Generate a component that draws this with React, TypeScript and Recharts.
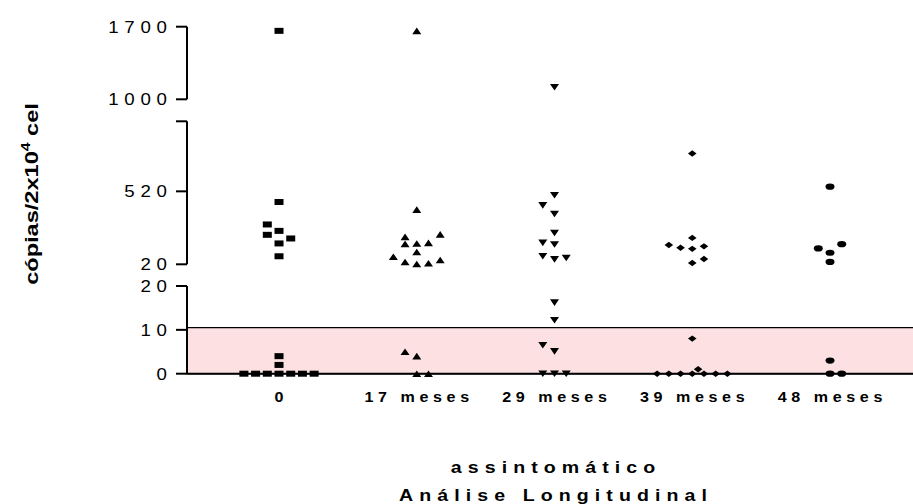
import React from 'react';
import { ScatterChart, Scatter, XAxis, YAxis, ReferenceArea } from 'recharts';

// ---- data (cópias/2x10^4 cel) ----
const categories = ['0', '17 meses', '29 meses', '39 meses', '48 meses'];

const values0 = [1660, 447, 293, 249, 222, 197, 163, 75, 4, 2, 0, 0, 0, 0, 0, 0, 0];
const slots0 = [0, 0, -1, 0, -1, 1, 0, 0, 0, 0, -3, -2, -1, 0, 1, 2, 3];

const values17 = [1660, 395, 208, 225, 160, 163, 167, 104, 72, 36, 22, 27, 49, 5, 4, 0, 0];
const slots17 = [0, 0, -1, 2, -1, 0, 1, 0, -2, -1, 0, 1, 2, -1, 0, 0, 1];

const values29 = [1116, 493, 424, 365, 235, 167, 156, 75, 54, 63, 16.2, 12.2, 6.5, 5.1, 0, 0, 0];
const slots29 = [0, 0, -1, 0, 0, -1, 0, -1, 0, 1, 0, 0, -1, 0, -1, 0, 1];

const values39 = [779, 201, 152, 133, 126, 143, 29, 56, 8, 1, 0, 0, 0, 0, 0, 0, 0];
const slots39 = [0, 0, -2, -1, 0, 1, 0, 1, 0, 0.5, -3, -2, -1, 0, 1, 2, 3];

const values48 = [552, 129, 158, 99, 36, 3, 0, 0];
const slots48 = [0, -1, 1, 0, 0, 0, 0, 1];

const limitValue = 10.5; // pink band upper limit

const topTicks = [1000, 1700];
const midTicks = [20, 520, 1000];
const botTicks = [0, 10, 20];

// ---- layout ----
const W = 940;
const H = 504;
const PLOT_LEFT = 187;
const YW = 100;
const XH = 30;
const SLOT = 0.085;
const X_DOMAIN: [number, number] = [0.332, 5.7985];
const FONT = '"Liberation Sans", Arial, Helvetica, sans-serif';

const groups = [
  { values: values0, slots: slots0, shape: 'square' },
  { values: values17, slots: slots17, shape: 'triUp' },
  { values: values29, slots: slots29, shape: 'triDown' },
  { values: values39, slots: slots39, shape: 'diamond' },
  { values: values48, slots: slots48, shape: 'circle' },
];

const makeShape = (kind: string) => (props: any) => {
  const { cx, cy } = props;
  if (cx == null || cy == null || kind === 'none') return <g />;
  if (kind === 'square') return <rect x={cx - 4.5} y={cy - 3} width={9} height={6} fill="#000" />;
  if (kind === 'triUp')
    return <path d={`M${cx - 4.5},${cy + 3.3}L${cx + 4.5},${cy + 3.3}L${cx},${cy - 3.3}Z`} fill="#000" />;
  if (kind === 'triDown')
    return <path d={`M${cx - 4.5},${cy - 3.3}L${cx + 4.5},${cy - 3.3}L${cx},${cy + 3.3}Z`} fill="#000" />;
  if (kind === 'diamond')
    return <path d={`M${cx - 4.3},${cy}L${cx},${cy - 3.2}L${cx + 4.3},${cy}L${cx},${cy + 3.2}Z`} fill="#000" />;
  return <ellipse cx={cx} cy={cy} rx={4.5} ry={3.1} fill="#000" />;
};

const makeYTick = (hidden: number[]) => (props: any) => {
  const { x, y, payload } = props;
  const label = hidden.includes(payload.value) ? '' : String(payload.value);
  const ls = 5.2;
  const sx = 1.1;
  return (
    <text
      transform={`translate(${x + ls * sx},${y}) scale(${sx},1)`}
      x={0}
      y={0}
      dy="0.36em"
      textAnchor="end"
      fontFamily={FONT}
      fontSize={17}
      letterSpacing={ls}
      fill="#000"
    >
      {label}
    </text>
  );
};

const XTick = (props: any) => {
  const { x, y, payload } = props;
  const idx = Math.round(payload.value) - 1;
  const ls = 4;
  const sx = 1.15;
  return (
    <text
      transform={`translate(${x + (ls * sx) / 2},${y + 28.7}) scale(${sx},1)`}
      x={0}
      y={0}
      textAnchor="middle"
      fontFamily={FONT}
      fontWeight="bold"
      fontSize={14}
      letterSpacing={ls}
      fill="#000"
    >
      {categories[idx] ?? ''}
    </text>
  );
};

type Seg = {
  key: string;
  domain: [number, number];
  ticks: number[];
  hidden: number[];
  top: number;
  bottom: number;
  keep: (v: number) => boolean;
};

const segments: Seg[] = [
  { key: 'top', domain: [1000, 1700], ticks: topTicks, hidden: [], top: 26.7, bottom: 99.3, keep: (v) => v > 1000 },
  { key: 'mid', domain: [20, 1000], ticks: midTicks, hidden: [1000], top: 121.3, bottom: 264.3, keep: (v) => v > 20 && v <= 1000 },
  { key: 'bot', domain: [0, 20], ticks: botTicks, hidden: [], top: 286, bottom: 373.7, keep: (v) => v <= 20 },
];

const seriesFor = (seg: Seg, invisible: boolean) =>
  groups.map((g, i) => {
    const data = g.values
      .map((v, j) => ({ x: i + 1 + g.slots[j] * SLOT, y: v }))
      .filter((p) => seg.keep(p.y));
    return (
      <Scatter
        key={categories[i]}
        name={categories[i]}
        data={data}
        fill="#000"
        shape={makeShape(invisible ? 'none' : g.shape)}
        isAnimationActive={false}
      />
    );
  });

function Segment({ seg }: { seg: Seg }) {
  const isBottom = seg.key === 'bot';
  return (
    <div style={{ position: 'absolute', left: 0, top: 0 }}>
      <ScatterChart
        width={W}
        height={H}
        margin={{ top: seg.top, right: 0, left: PLOT_LEFT - YW, bottom: H - seg.bottom - (isBottom ? XH : 0) }}
      >
        {isBottom && (
          <ReferenceArea
            y1={0}
            y2={limitValue}
            fill="#fde0e2"
            fillOpacity={1}
            stroke="#000"
            strokeWidth={1.3}
          />
        )}
        <XAxis
          type="number"
          dataKey="x"
          domain={X_DOMAIN}
          ticks={[1, 2, 3, 4, 5]}
          hide={!isBottom}
          height={XH}
          tickLine={false}
          tickSize={0}
          tickMargin={0}
          axisLine={{ stroke: '#000', strokeWidth: 2 }}
          tick={<XTick />}
          interval={0}
        />
        <YAxis
          type="number"
          dataKey="y"
          domain={seg.domain}
          ticks={seg.ticks}
          width={YW}
          tickSize={11}
          tickMargin={9}
          interval={0}
          axisLine={{ stroke: '#000', strokeWidth: 2 }}
          tickLine={{ stroke: '#000', strokeWidth: 2 }}
          tick={makeYTick(seg.hidden)}
        />
        {seriesFor(seg, isBottom)}
      </ScatterChart>
    </div>
  );
}

// bottom-segment points drawn on a transparent layer above the x axis line
function BottomPoints({ seg }: { seg: Seg }) {
  return (
    <div style={{ position: 'absolute', left: 0, top: 0 }}>
      <ScatterChart width={W} height={H} margin={{ top: seg.top, right: 0, left: PLOT_LEFT, bottom: H - seg.bottom }}>
        <XAxis type="number" dataKey="x" domain={X_DOMAIN} hide />
        <YAxis type="number" dataKey="y" domain={seg.domain} hide />
        {seriesFor(seg, false)}
      </ScatterChart>
    </div>
  );
}

export default function App() {
  const tls = 5.3;
  const tsx = 1.15;
  return (
    <div
      style={{
        position: 'absolute',
        left: 0,
        top: 0,
        width: 913,
        height: 504,
        overflow: 'hidden',
        background: '#fff',
      }}
    >
      {segments.map((s) => (
        <Segment key={s.key} seg={s} />
      ))}
      <BottomPoints seg={segments[2]} />
      <svg width={913} height={504} style={{ position: 'absolute', left: 0, top: 0, pointerEvents: 'none' }}>
        <text
          transform={`translate(38,194) rotate(-90) scale(1.31,1)`}
          textAnchor="middle"
          fontFamily={FONT}
          fontWeight="bold"
          fontSize={18}
          fill="#000"
        >
          cópias/2x10
          <tspan fontSize={12} dy={-8}>4</tspan>
          <tspan dy={8}> cel</tspan>
        </text>
        <text
          transform={`translate(${553 + (tls * tsx) / 2},473) scale(${tsx},1)`}
          textAnchor="middle"
          fontFamily={FONT}
          fontWeight="bold"
          fontSize={17}
          letterSpacing={tls}
          fill="#000"
        >
          assintomático
        </text>
        <text
          transform={`translate(${553 + (tls * tsx) / 2},500.5) scale(${tsx},1)`}
          textAnchor="middle"
          fontFamily={FONT}
          fontWeight="bold"
          fontSize={17}
          letterSpacing={tls}
          fill="#000"
        >
          Análise Longitudinal
        </text>
      </svg>
    </div>
  );
}
